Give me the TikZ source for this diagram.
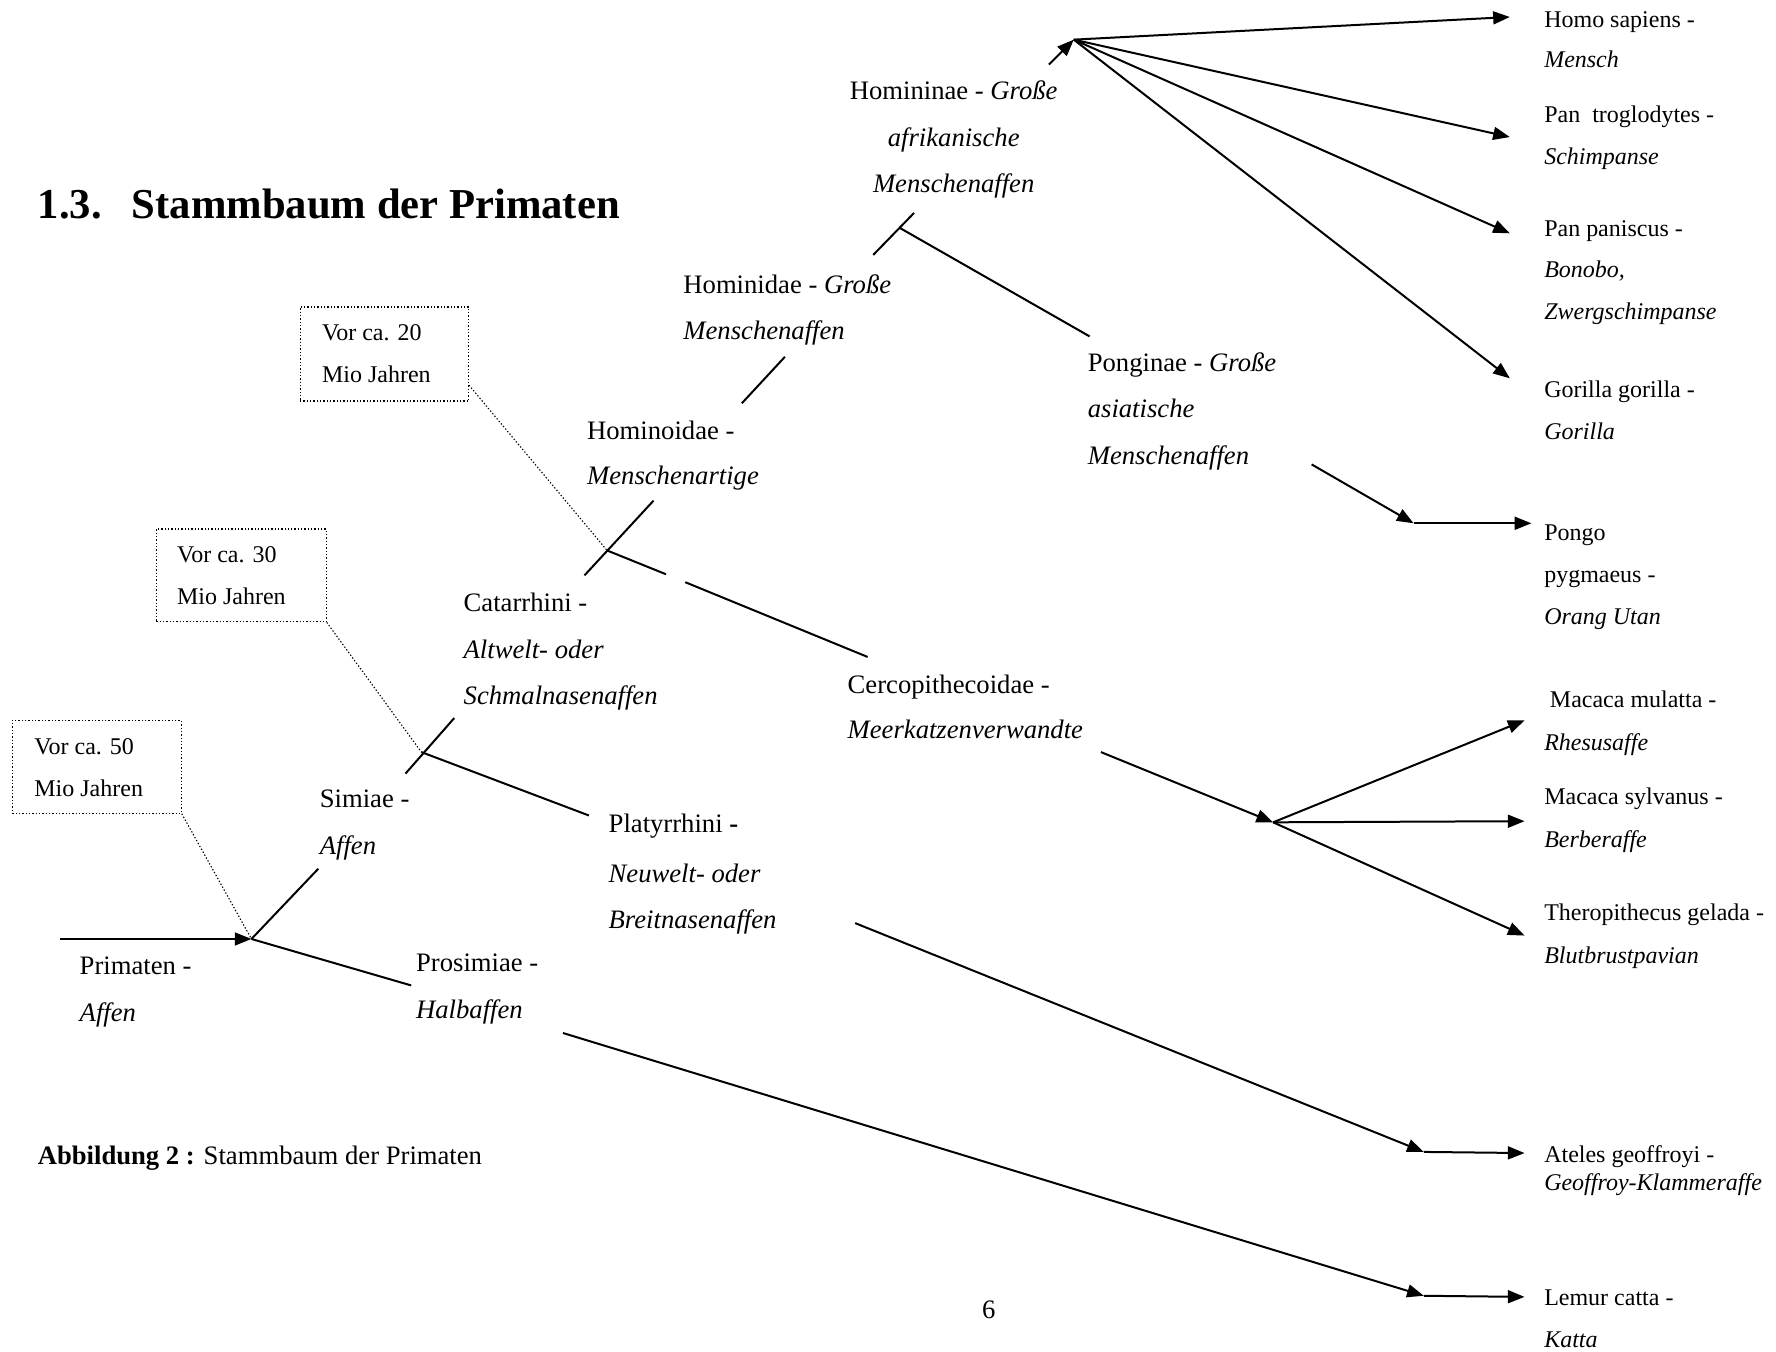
\documentclass[tikz,border=0pt]{standalone}
\usepackage{fontspec}
\setmainfont{Liberation Serif}
\usetikzlibrary{arrows.meta,fit}
\begin{document}
\begin{tikzpicture}[x=0.51pt,y=-0.51pt,
  br/.style={line width=0.9pt},
  arr/.style={line width=0.9pt,-{Triangle[length=7.5pt,width=5.8pt]}},
  dots/.style={line width=0.5pt,dash pattern=on 0.6pt off 0.9pt},
  lab/.style={anchor=base west,inner sep=0pt,font=\fontsize{12}{14}\selectfont},
  labc/.style={anchor=base,inner sep=0pt,font=\fontsize{12}{14}\selectfont},
  rlab/.style={anchor=base west,inner sep=0pt,font=\fontsize{10.8}{13}\selectfont},
  dotbox/.style={draw,dots,inner sep=0pt}]
\useasboundingbox (0,0) rectangle (1568,1193);

% title
\node[anchor=base west,inner sep=0pt,font=\fontsize{19.2}{22}\selectfont\bfseries] (t1) at (33,193) {1.3.};
\node[anchor=base west,inner sep=0pt,font=\fontsize{19.2}{22}\selectfont\bfseries] (t2) at (116,193) {Stammbaum der Primaten};

% dotted boxes
\node[dotbox,fit={(265,271) (414,354)}] (b20) {};
\node[rlab] (b20a) at (284,301) {Vor ca. 20};
\node[rlab] (b20b) at (284,338) {Mio Jahren};
\node[dotbox,fit={(138,467) (288,549)}] (b30) {};
\node[rlab] (b30a) at (156,497) {Vor ca. 30};
\node[rlab] (b30b) at (156,534) {Mio Jahren};
\node[dotbox,fit={(11,636) (160,718)}] (b50) {};
\node[rlab] (b50a) at (30,666) {Vor ca. 50};
\node[rlab] (b50b) at (30,703) {Mio Jahren};

% branch coordinates
\coordinate (rootS) at (53,829);
\coordinate (P0) at (222,829);
\coordinate (simE) at (281,767);
\coordinate (proE) at (363,870);
\coordinate (s1a) at (358,683);
\coordinate (s1b) at (401,634);
\coordinate (S1) at (372,664);
\coordinate (plaE) at (520,720);
\coordinate (s2a) at (516,508);
\coordinate (s2b) at (577,442);
\coordinate (S2) at (536,486);
\coordinate (c1) at (588,507);
\coordinate (c2) at (605,514);
\coordinate (c3) at (766,580);
\coordinate (h1a) at (655,356);
\coordinate (h1b) at (693,315);
\coordinate (s3a) at (771,225);
\coordinate (s3b) at (807,188);
\coordinate (S3) at (794,201);
\coordinate (ponE) at (962,297);
\coordinate (hnS) at (926,57);
\coordinate (H) at (948,35);
\coordinate (tHomo) at (1333,15);
\coordinate (tTrog) at (1333,121);
\coordinate (tPani) at (1333,206);
\coordinate (tGor) at (1333,334);
\coordinate (pgS) at (1158,410);
\coordinate (pgJ) at (1248,462);
\coordinate (tPongo) at (1352,462);
\coordinate (ceS) at (972,664);
\coordinate (H2) at (1124,726);
\coordinate (tMul) at (1346,636);
\coordinate (tSyl) at (1346,725);
\coordinate (tThe) at (1346,826);
\coordinate (plS) at (755,815);
\coordinate (plJ) at (1257,1017);
\coordinate (tAte) at (1346,1018);
\coordinate (prS) at (497,912);
\coordinate (prJ) at (1257,1144);
\coordinate (tLem) at (1346,1145);
\coordinate (d20) at (414,340);

% dotted connectors
\draw[dots] (d20) -- (S2);
\draw[dots] (b30.south east) -- (S1);
\draw[dots] (b50.south east) -- (P0);

% tree
\draw[arr] (rootS) -- (P0);
\draw[br] (P0) -- (simE);
\draw[br] (P0) -- (proE);
\draw[br] (s1a) -- (s1b);
\draw[br] (S1) -- (plaE);
\draw[br] (s2a) -- (s2b);
\draw[br] (S2) -- (c1);
\draw[br] (c2) -- (c3);
\draw[br] (h1a) -- (h1b);
\draw[br] (s3a) -- (s3b);
\draw[br] (S3) -- (ponE);
\draw[arr] (hnS) -- (H);
\draw[arr] (H) -- (tHomo);
\draw[arr] (H) -- (tTrog);
\draw[arr] (H) -- (tPani);
\draw[arr] (H) -- (tGor);
\draw[arr] (pgS) -- (pgJ);
\draw[arr] (pgJ) -- (tPongo);
\draw[arr] (ceS) -- (H2);
\draw[arr] (H2) -- (tMul);
\draw[arr] (H2) -- (tSyl);
\draw[arr] (H2) -- (tThe);
\draw[arr] (plS) -- (plJ);
\draw[arr] (plJ) -- (tAte);
\draw[arr] (prS) -- (prJ);
\draw[arr] (prJ) -- (tLem);

% main labels
\node[labc] (hn1) at (842,88) {Homininae - \textit{Große}};
\node[labc] (hn2) at (842,129) {\textit{afrikanische}};
\node[labc] (hn3) at (842,170) {\textit{Menschenaffen}};
\node[lab] (hd1) at (603,259) {Hominidae - \textit{Große}};
\node[lab] (hd2) at (603,300) {\textit{Menschenaffen}};
\node[lab] (ho1) at (518,388) {Hominoidae -};
\node[lab] (ho2) at (518,428) {\textit{Menschenartige}};
\node[lab] (ca1) at (409,540) {Catarrhini -};
\node[lab] (ca2) at (409,581) {\textit{Altwelt- oder}};
\node[lab] (ca3) at (409,622) {\textit{Schmalnasenaffen}};
\node[lab] (si1) at (282,713) {Simiae -};
\node[lab] (si2) at (282,754) {\textit{Affen}};
\node[lab] (pr1) at (70,860) {Primaten -};
\node[lab] (pr2) at (70,902) {\textit{Affen}};
\node[lab] (ps1) at (367,858) {Prosimiae -};
\node[lab] (ps2) at (367,899) {\textit{Halbaffen}};
\node[lab] (pl1) at (537,735) {Platyrrhini \textbf{-}};
\node[lab] (pl2) at (537,779) {\textit{Neuwelt- oder}};
\node[lab] (pl3) at (537,820) {\textit{Breitnasenaffen}};
\node[lab] (ce1) at (748,612) {Cercopithecoidae -};
\node[lab] (ce2) at (748,652) {\textit{Meerkatzenverwandte}};
\node[lab] (po1) at (960,328) {Ponginae - \textit{Große}};
\node[lab] (po2) at (960,369) {\textit{asiatische}};
\node[lab] (po3) at (960,410) {\textit{Menschenaffen}};

% species labels
\node[rlab] (sp1) at (1363,24) {Homo sapiens -};
\node[rlab] (sp1b) at (1363,60) {\textit{Mensch}};
\node[rlab] (sp2) at (1363,108) {Pan\ \ troglodytes -};
\node[rlab] (sp2b) at (1363,145) {\textit{Schimpanse}};
\node[rlab] (sp3) at (1363,209) {Pan paniscus -};
\node[rlab] (sp3b) at (1363,245) {\textit{Bonobo,}};
\node[rlab] (sp3c) at (1363,282) {\textit{Zwergschimpanse}};
\node[rlab] (sp4) at (1363,351) {Gorilla gorilla -};
\node[rlab] (sp4b) at (1363,388) {\textit{Gorilla}};
\node[rlab] (sp5) at (1363,477) {Pongo};
\node[rlab] (sp5b) at (1363,514) {pygmaeus -};
\node[rlab] (sp5c) at (1363,551) {\textit{Orang Utan}};
\node[rlab] (sp6) at (1368,625) {Macaca mulatta -};
\node[rlab] (sp6b) at (1363,663) {\textit{Rhesusaffe}};
\node[rlab] (sp7) at (1363,710) {Macaca sylvanus -};
\node[rlab] (sp7b) at (1363,748) {\textit{Berberaffe}};
\node[rlab] (sp8) at (1363,813) {Theropithecus gelada -};
\node[rlab] (sp8b) at (1363,851) {\textit{Blutbrustpavian}};
\node[rlab] (sp9) at (1363,1026) {Ateles geoffroyi -};
\node[rlab] (sp9b) at (1363,1051) {\textit{Geoffroy-Klammeraffe}};
\node[rlab] (sp10) at (1363,1153) {Lemur catta -};
\node[rlab] (sp10b) at (1363,1190) {\textit{Katta}};

% caption and page number
\node[lab] (cap) at (33,1028) {\textbf{Abbildung 2 :} Stammbaum der Primaten};
\node[labc] (pg) at (873,1164) {6};
\end{tikzpicture}
\end{document}
